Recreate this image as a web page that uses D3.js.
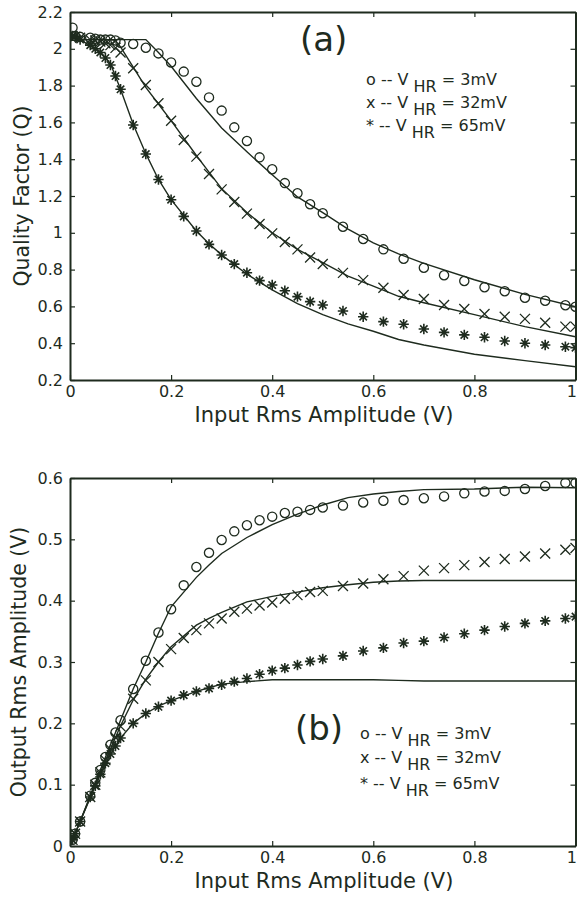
<!DOCTYPE html>
<html>
<head>
<meta charset="utf-8">
<script src="https://cdn.jsdelivr.net/npm/d3@7"></script>
<style>
  body { margin: 0; background: #fff; }
  text { font-family: "DejaVu Sans", sans-serif; fill: #1e2b1e; }
</style>
</head>
<body>
<svg id="chart" width="578" height="902"></svg>
<script>
// measured points (input rms amplitude, V)
var inputAmp = [0.005, 0.01, 0.02, 0.04, 0.05, 0.06, 0.07, 0.08, 0.09, 0.1,
  0.125, 0.15, 0.175, 0.2, 0.225, 0.25, 0.275, 0.3, 0.325, 0.35, 0.375, 0.4, 0.425, 0.45, 0.475, 0.5,
  0.54, 0.58, 0.62, 0.66, 0.70, 0.74, 0.78, 0.82, 0.86, 0.90, 0.94, 0.98, 1.0];

// quality factor, panel (a)
var q3mV = [2.115, 2.07, 2.065, 2.06, 2.055, 2.05, 2.05, 2.05, 2.045, 2.033,
  2.026, 2.006, 1.975, 1.926, 1.876, 1.821, 1.736, 1.664, 1.573, 1.499, 1.41, 1.345, 1.27, 1.215, 1.155, 1.106,
  1.033, 0.966, 0.910, 0.859, 0.81, 0.769, 0.738, 0.704, 0.682, 0.647, 0.631, 0.606, 0.598];
var q32mV = [2.07, 2.065, 2.06, 2.05, 2.045, 2.04, 2.03, 2.02, 2.005, 1.98,
  1.894, 1.803, 1.704, 1.609, 1.504, 1.414, 1.32, 1.236, 1.167, 1.104, 1.048, 0.997, 0.95, 0.91, 0.866, 0.83,
  0.782, 0.743, 0.701, 0.662, 0.64, 0.608, 0.586, 0.559, 0.544, 0.532, 0.511, 0.49, 0.49];
var q65mV = [2.07, 2.065, 2.05, 2.02, 2.0, 1.98, 1.95, 1.912, 1.852, 1.78,
  1.586, 1.428, 1.29, 1.18, 1.089, 1.01, 0.937, 0.879, 0.83, 0.783, 0.74, 0.716, 0.685, 0.653, 0.626, 0.608,
  0.575, 0.544, 0.517, 0.503, 0.477, 0.459, 0.445, 0.432, 0.412, 0.40, 0.39, 0.381, 0.376];

// output rms amplitude, panel (b)
var out3mV = [0.01, 0.02, 0.04, 0.082, 0.103, 0.124, 0.145, 0.165, 0.185, 0.205,
  0.256, 0.302, 0.348, 0.386, 0.425, 0.455, 0.478, 0.499, 0.513, 0.523, 0.531, 0.537, 0.543, 0.545, 0.548, 0.552,
  0.555, 0.56, 0.563, 0.564, 0.567, 0.57, 0.575, 0.578, 0.579, 0.582, 0.587, 0.592, 0.592];
var out32mV = [0.01, 0.02, 0.04, 0.08, 0.10, 0.12, 0.14, 0.158, 0.177, 0.195,
  0.24, 0.27, 0.30, 0.321, 0.339, 0.352, 0.363, 0.371, 0.382, 0.387, 0.392, 0.397, 0.403, 0.409, 0.414, 0.416,
  0.424, 0.428, 0.435, 0.44, 0.449, 0.453, 0.458, 0.463, 0.468, 0.472, 0.477, 0.483, 0.486];
var out65mV = [0.01, 0.02, 0.04, 0.08, 0.098, 0.117, 0.135, 0.15, 0.163, 0.176,
  0.2, 0.216, 0.227, 0.237, 0.246, 0.252, 0.257, 0.263, 0.268, 0.273, 0.28, 0.286, 0.29, 0.295, 0.301, 0.305,
  0.31, 0.318, 0.323, 0.331, 0.334, 0.34, 0.346, 0.352, 0.358, 0.363, 0.367, 0.371, 0.374];

// simulated curves
var simAmp = [0, 0.02, 0.05, 0.06, 0.08, 0.09, 0.1, 0.125, 0.15, 0.175, 0.2, 0.25, 0.275, 0.3,
  0.35, 0.4, 0.45, 0.5, 0.55, 0.6, 0.65, 0.7, 0.8, 0.9, 1.0];
var qSim3 = [2.07, 2.05, 2.05, 2.05, 2.05, 2.05, 2.05, 2.05, 2.05, 1.98, 1.905, 1.73, 1.65, 1.57,
  1.44, 1.315, 1.195, 1.11, 1.02, 0.945, 0.885, 0.834, 0.745, 0.665, 0.598];
var qSim32 = [2.07, 2.05, 2.05, 2.05, 2.05, 2.045, 2.01, 1.9, 1.79, 1.70, 1.61, 1.42, 1.33, 1.24,
  1.11, 1.0, 0.91, 0.838, 0.765, 0.71, 0.655, 0.62, 0.555, 0.49, 0.435];
var qSim65 = [2.07, 2.05, 2.0, 1.98, 1.92, 1.85, 1.78, 1.59, 1.43, 1.29, 1.18, 1.01, 0.94, 0.88,
  0.775, 0.69, 0.615, 0.555, 0.505, 0.465, 0.42, 0.39, 0.34, 0.305, 0.272];
var outSim3 = [0, 0.04, 0.103, 0.124, 0.165, 0.185, 0.205, 0.256, 0.30, 0.347, 0.39, 0.438, 0.458, 0.477,
  0.503, 0.524, 0.541, 0.556, 0.568, 0.574, 0.578, 0.581, 0.582, 0.585, 0.584];
var outSim32 = [0, 0.04, 0.1, 0.12, 0.158, 0.177, 0.196, 0.238, 0.272, 0.30, 0.325, 0.36, 0.371, 0.381,
  0.398, 0.407, 0.414, 0.421, 0.426, 0.43, 0.432, 0.433, 0.433, 0.433, 0.433];
var outSim65 = [0, 0.04, 0.098, 0.117, 0.15, 0.163, 0.176, 0.2, 0.216, 0.228, 0.237, 0.252, 0.258, 0.264,
  0.268, 0.271, 0.271, 0.271, 0.271, 0.271, 0.27, 0.269, 0.269, 0.269, 0.269];

var inTicks = [0, 0.2, 0.4, 0.6, 0.8, 1];
var qTicks = [0.2, 0.4, 0.6, 0.8, 1, 1.2, 1.4, 1.6, 1.8, 2, 2.2];
var outTicks = [0, 0.1, 0.2, 0.3, 0.4, 0.5, 0.6];

var legendMarks = ["o", "x", "*"];
var legendVolts = ["3mV", "32mV", "65mV"];

var ink = "#1e2b1e";
var svg = d3.select("#chart");
var fmt = function(d) { return String(+d.toFixed(2)); };

var markerPaths = {
  o: d3.symbol().type(d3.symbolCircle).size(Math.PI * 4.6 * 4.6)(),
  x: "M-5,-5L5,5M-5,5L5,-5",
  "*": "M-5.2,0H5.2M0,-5.2V5.2M-3.7,-3.7L3.7,3.7M-3.7,3.7L3.7,-3.7"
};

function drawPanel(opt) {
  var g = svg.append("g");
  var x = d3.scaleLinear().domain([0, 1]).range([70, 575.5]);
  var y = d3.scaleLinear().domain(opt.yDomain).range([opt.bottom, opt.top]);

  var clipId = "clip" + opt.name;
  svg.append("clipPath").attr("id", clipId)
    .append("rect").attr("x", 70).attr("y", opt.top)
    .attr("width", 505.5).attr("height", opt.bottom - opt.top);

  var plot = g.append("g").attr("clip-path", "url(#" + clipId + ")");
  var line = d3.line().x(function(d) { return x(d[0]); }).y(function(d) { return y(d[1]); });

  opt.sims.forEach(function(s) {
    plot.append("path")
      .datum(d3.zip(simAmp, s))
      .attr("d", line)
      .attr("fill", "none")
      .attr("stroke", ink)
      .attr("stroke-width", 1.4);
  });

  opt.meas.forEach(function(s, i) {
    plot.selectAll(null)
      .data(d3.zip(inputAmp, s))
      .enter().append("path")
      .attr("transform", function(d) { return "translate(" + x(d[0]) + "," + y(d[1]) + ")"; })
      .attr("d", markerPaths[legendMarks[i]])
      .attr("fill", legendMarks[i] === "*" ? ink : "none")
      .attr("stroke", ink)
      .attr("stroke-width", legendMarks[i] === "*" ? 1.6 : 1.3);
  });

  // axes with inward ticks
  var xAxis = g.append("g").attr("transform", "translate(0," + opt.bottom + ")")
    .call(d3.axisBottom(x).tickValues(inTicks).tickFormat(fmt).tickSizeInner(-5).tickSizeOuter(0).tickPadding(6));
  // last label sits on the right border, keep it inside the page
  xAxis.selectAll(".tick text").filter(function(d) { return d === 1; })
    .attr("text-anchor", "end").attr("dx", 1);
  g.append("g").attr("transform", "translate(0," + opt.top + ")")
    .call(d3.axisTop(x).tickValues(inTicks).tickFormat("").tickSizeInner(-5).tickSizeOuter(0));
  g.append("g").attr("transform", "translate(70,0)")
    .call(d3.axisLeft(y).tickValues(opt.yTicks).tickFormat(fmt).tickSizeInner(-5).tickSizeOuter(0).tickPadding(7));
  g.append("g").attr("transform", "translate(575.5,0)")
    .call(d3.axisRight(y).tickValues(opt.yTicks).tickFormat("").tickSizeInner(-5).tickSizeOuter(0));

  g.selectAll(".domain").attr("stroke", ink).attr("stroke-width", 2);
  g.selectAll(".tick line").attr("stroke", ink).attr("stroke-width", 1.2);
  g.selectAll(".tick text").attr("fill", ink)
    .style("font-family", "'DejaVu Sans', sans-serif").style("font-size", "16px");

  g.append("text")
    .attr("x", 324).attr("y", opt.xTitleY)
    .attr("text-anchor", "middle")
    .style("font-size", "21px")
    .text("Input Rms Amplitude (V)");
  g.append("text")
    .attr("transform", "translate(" + opt.yTitleX + "," + ((opt.top + opt.bottom) / 2) + ") rotate(-90)")
    .attr("text-anchor", "middle")
    .style("font-size", "20.5px")
    .text(opt.yTitle);

  g.append("text")
    .attr("x", opt.tag[0]).attr("y", opt.tag[1])
    .style("font-size", "34px")
    .text(opt.tagText);

  opt.legendY.forEach(function(ly, i) {
    var t = g.append("text").attr("x", opt.legendX).attr("y", ly).style("font-size", "16px");
    t.append("tspan").text(legendMarks[i] + " -- V ");
    t.append("tspan").attr("dy", 7).text("HR");
    t.append("tspan").attr("dy", -7).text(" = " + legendVolts[i]);
  });
}

drawPanel({
  name: "a", top: 12, bottom: 380, yDomain: [0.2, 2.2], yTicks: qTicks,
  sims: [qSim3, qSim32, qSim65], meas: [q3mV, q32mV, q65mV],
  xTitleY: 422, yTitleX: 29, yTitle: "Quality Factor (Q)",
  tag: [300, 51], tagText: "(a)", legendX: 366, legendY: [85, 108, 131]
});

drawPanel({
  name: "b", top: 478, bottom: 846, yDomain: [0, 0.6], yTicks: outTicks,
  sims: [outSim3, outSim32, outSim65], meas: [out3mV, out32mV, out65mV],
  xTitleY: 888, yTitleX: 26, yTitle: "Output Rms Amplitude (V)",
  tag: [295, 740], tagText: "(b)", legendX: 360, legendY: [739, 763, 789]
});
</script>
</body>
</html>
